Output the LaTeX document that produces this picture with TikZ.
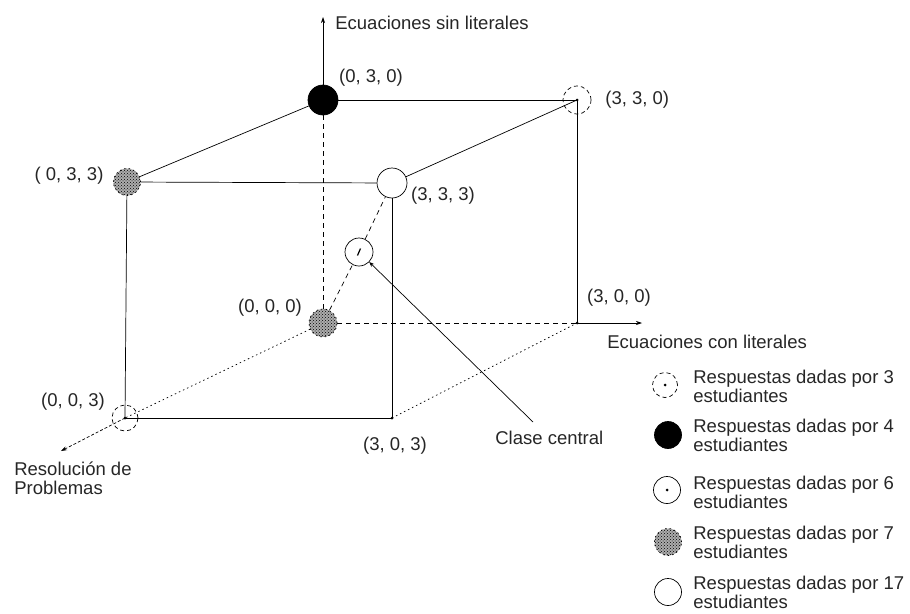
\documentclass[tikz,border=0pt]{standalone}
\usepackage{fontspec}
\setmainfont{Liberation Sans}
\usetikzlibrary{patterns,arrows.meta,calc}
\begin{document}
\begin{tikzpicture}[x=1pt,y=-1pt,line width=0.7pt,
  lbl/.style={font=\fontsize{18.5}{19}\selectfont,inner sep=0pt,text=black!85},
  leg/.style={lbl,align=left,anchor=west},
  dsh/.style={dash pattern=on 5pt off 4pt},
  dotl/.style={dash pattern=on 1.5pt off 3pt},
  tip/.style={-{Stealth[length=6pt,width=4pt]}},
  blk/.style={circle,draw,fill=black,inner sep=0pt,minimum size=#1},
  opn/.style={circle,draw,fill=white,inner sep=0pt,minimum size=#1},
  tex/.style={circle,draw,dotl,fill=gray!65,postaction={pattern=crosshatch dots},inner sep=0pt,minimum size=#1},
  dcirc/.style={circle,draw,dash pattern=on 4pt off 3pt,inner sep=0pt,minimum size=#1},
  vdot/.style={circle,fill=black,inner sep=0pt,minimum size=3pt}
]
\useasboundingbox (0,0) rectangle (910,613);

% vertices
\node[blk=30pt] (n030) at (323,100) {};
\node[opn=30pt] (n333) at (392,183) {};
\node[tex=27pt] (n033) at (127,182) {};
\node[tex=28pt] (n000) at (323,323) {};
\node[opn=28pt] (cc) at (359,252) {};
\draw[line width=1.2pt] ($(cc)+(-1.5,3.5)$) -- ($(cc)+(1.5,-3.5)$);
\coordinate (v330) at (577,100);
\node[dcirc=28pt] (c330) at (v330) {};
\coordinate (v300) at (577,323);
\coordinate (v303) at (392,418);
\coordinate (v003) at (125,418);
\node[dcirc=26pt] (c003) at (v003) {};
\foreach \v in {v330,v300,v303,v003} \node[vdot] at (\v) {};

% axis ends
\coordinate (ytop) at (323,17);
\coordinate (xend) at (642,323);
\coordinate (zend) at (61,451);
\coordinate (clend) at (533,422);

% edges
\draw (n030) -- (v330);
\draw (n030) -- (n033);
\draw (n033) -- (n333);
\draw (n333) -- (v330);
\draw (v330) -- (v300);
\draw (n333) -- (v303);
\draw (n033) -- (v003);
\draw (v003) -- (v303);
\draw[dotl] (v303) -- (v300);
\draw[dsh] (n000) -- (v300);
\draw[dsh] (n000) -- (n030);
\draw[dotl] (n000) -- (v003);
\draw[dsh] (n000) -- (cc);
\draw[dsh] (cc) -- (n333);
% axes
\draw[tip] (n030) -- (ytop);
\draw[tip] (v300) -- (xend);
\draw[tip,dash pattern=on 3pt off 2pt] (v003) -- (zend);
\draw[{Stealth[length=5pt,width=4pt]}-] (cc) -- (clend);

% labels
\node[lbl,anchor=west] (ly) at (335,23) {Ecuaciones sin literales};
\node[lbl] (l030) at (371,78) {(0, 3, 0)};
\node[lbl,anchor=west] (l330) at (605,100) {(3, 3, 0)};
\node[lbl] (l033) at (69,176) {( 0, 3, 3)};
\node[lbl] (l333) at (443,196) {(3, 3, 3)};
\node[lbl] (l000) at (270,308) {(0, 0, 0)};
\node[lbl] (l300) at (619,298) {(3, 0, 0)};
\node[lbl,anchor=west] (lx) at (607,342) {Ecuaciones con literales};
\node[lbl] (l003) at (73,402) {(0, 0, 3)};
\node[lbl] (l303) at (395,446) {(3, 0, 3)};
\node[lbl,anchor=west] (lcc) at (495,438) {Clase central};
\node[leg] (lz) at (14,478) {Resolución de\\Problemas};

% legend
\node[dcirc=25pt] (s3) at (665,385) {};
\node[vdot] at (s3) {};
\node[blk=27pt] (s4) at (668,435) {};
\node[opn=27pt] (s6) at (667,490) {};
\node[vdot] at (s6) {};
\node[tex=27pt] (s7) at (668,542) {};
\node[opn=27pt] (s17) at (668,592) {};
\node[leg] (t3) at (693,386) {Respuestas dadas por 3\\estudiantes};
\node[leg] (t4) at (693,435) {Respuestas dadas por 4\\estudiantes};
\node[leg] (t6) at (693,492) {Respuestas dadas por 6\\estudiantes};
\node[leg] (t7) at (693,542) {Respuestas dadas por 7\\estudiantes};
\node[leg] (t17) at (693,592) {Respuestas dadas por 17\\estudiantes};
\end{tikzpicture}
\end{document}
